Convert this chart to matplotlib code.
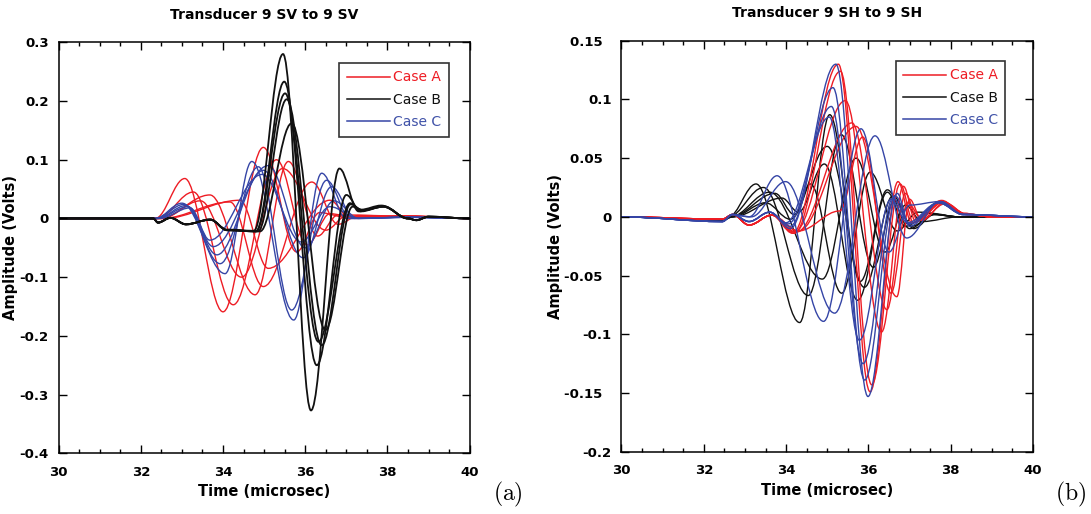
import matplotlib
matplotlib.use("Agg")
import matplotlib.pyplot as plt
from matplotlib.path import Path
from matplotlib.patches import PathPatch
from matplotlib.lines import Line2D

plt.rcParams['font.family'] = ['DejaVu Sans']
plt.rcParams['axes.unicode_minus'] = False
plt.rcParams['mathtext.fontset'] = 'cm'

RED = '#ee1c24'
BLACK = '#111111'
BLUE = '#3545a6'

X_TICKS = [30, 32, 34, 36, 38, 40]
SV_Y_TICKS = [-0.4, -0.3, -0.2, -0.1, 0, 0.1, 0.2, 0.3]
SH_Y_TICKS = [-0.2, -0.15, -0.1, -0.05, 0, 0.05, 0.1, 0.15]

# each trace = list of (time, amplitude) turning points
# ---- panel (a): SV to SV ----
SV_CASE_A = [
    [(30, 0), (32.35, 0), (33.07, 0.068), (34.0, -0.159), (34.98, 0.121), (35.79, -0.057), (36.35, 0.01), (37.0, 0.002), (38.5, 0.004), (40, 0)],
    [(30, 0), (32.4, 0), (33.28, 0.045), (34.25, -0.147), (35.3, 0.10), (36.05, -0.045), (36.6, 0.008), (37.2, 0.002), (38.5, 0.004), (40, 0)],
    [(30, 0), (32.45, 0), (33.68, 0.04), (34.78, -0.13), (35.59, 0.097), (36.3, -0.03), (36.8, 0.006), (38.5, 0.004), (40, 0)],
    [(30, 0), (32.5, 0), (34.17, 0.028), (34.98, -0.116), (36.16, 0.062), (36.8, -0.01), (37.3, 0.005), (38.5, 0.003), (40, 0)],
    [(30, 0), (32.55, 0), (34.41, 0.031), (35.1, -0.085), (36.6, 0.031), (37.1, 0.0), (38.5, 0.004), (40, 0)],
    [(30, 0), (32.5, 0), (33.45, 0.03), (34.45, -0.1), (35.45, 0.085), (36.5, -0.02), (37.0, 0.004), (38.5, 0.003), (40, 0)],
]
SV_CASE_B = [
    [(30, 0), (32.3, 0), (32.42, -0.007), (32.72, 0.001), (33.1, -0.01), (33.69, -0.002), (34.1, -0.019), (34.75, -0.021),
     (35.46, 0.28), (36.14, -0.327), (36.83, 0.085), (37.3, 0.012), (37.9, 0.021), (38.5, 0.0), (38.7, -0.003), (39.0, 0.003), (40, 0)],
    [(30, 0), (32.3, 0), (32.42, -0.007), (32.72, 0.001), (33.1, -0.01), (33.69, -0.002), (34.1, -0.02), (34.8, -0.022),
     (35.49, 0.233), (36.28, -0.25), (37.0, 0.04), (37.35, 0.012), (37.9, 0.02), (38.5, 0.0), (38.7, -0.003), (39.0, 0.003), (40, 0)],
    [(30, 0), (32.3, 0), (32.42, -0.007), (32.72, 0.001), (33.1, -0.01), (33.69, -0.002), (34.1, -0.02), (34.8, -0.022),
     (35.51, 0.213), (36.32, -0.21), (37.09, 0.026), (37.35, 0.015), (37.85, 0.022), (38.5, 0.0), (38.7, -0.003), (39.0, 0.003), (40, 0)],
    [(30, 0), (32.3, 0), (32.42, -0.007), (32.72, 0.001), (33.1, -0.01), (33.69, -0.002), (34.1, -0.02), (34.85, -0.022),
     (35.55, 0.203), (36.4, -0.216), (37.1, 0.024), (37.4, 0.014), (37.9, 0.02), (38.5, 0.0), (38.7, -0.003), (39.0, 0.003), (40, 0)],
    [(30, 0), (32.3, 0), (32.42, -0.007), (32.72, 0.001), (33.1, -0.01), (33.69, -0.002), (34.1, -0.02), (34.9, -0.022),
     (35.67, 0.162), (36.49, -0.19), (37.15, 0.02), (37.4, 0.014), (37.9, 0.02), (38.5, 0.0), (38.7, -0.003), (39.0, 0.003), (40, 0)],
]
SV_CASE_C = [
    [(30, 0), (32.35, 0), (33.0, 0.026), (34.05, -0.094), (34.7, 0.097), (35.72, -0.173), (36.4, 0.077), (37.0, 0.0), (38.5, 0.002), (40, 0)],
    [(30, 0), (32.35, 0), (33.05, 0.024), (33.93, -0.077), (34.86, 0.088), (35.67, -0.156), (36.52, 0.065), (37.1, 0.0), (38.5, 0.002), (40, 0)],
    [(30, 0), (32.4, 0), (33.1, 0.022), (33.85, -0.062), (34.98, 0.082), (35.95, -0.067), (36.64, 0.054), (37.2, 0.0), (38.5, 0.002), (40, 0)],
    [(30, 0), (32.4, 0), (33.15, 0.02), (33.76, -0.048), (35.1, 0.09), (36.0, -0.05), (36.7, 0.03), (37.3, 0.0), (38.5, 0.002), (40, 0)],
    [(30, 0), (32.45, 0), (33.2, 0.018), (33.68, -0.037), (34.95, 0.075), (35.9, -0.04), (36.6, 0.02), (37.3, 0.0), (38.5, 0.002), (40, 0)],
]

# ---- panel (b): SH to SH ----
SH_CASE_A = [
    [(30, 0), (32.45, -0.002), (32.7, 0.002), (33.1, -0.007), (33.65, 0.0015), (34.16, -0.014), (35.27, 0.13), (36.04, -0.149),
     (36.72, 0.03), (37.05, -0.005), (37.78, 0.014), (38.3, 0.003), (39.0, 0), (40, 0)],
    [(30, 0), (32.45, -0.002), (32.7, 0.002), (33.1, -0.007), (33.65, 0.0015), (34.2, -0.014), (35.32, 0.124), (36.08, -0.143),
     (36.77, 0.028), (37.1, -0.005), (37.8, 0.013), (38.3, 0.003), (39.0, 0), (40, 0)],
    [(30, 0), (32.45, -0.002), (32.7, 0.002), (33.1, -0.007), (33.65, 0.0015), (34.2, -0.013), (35.44, 0.099), (36.32, -0.098),
     (36.85, 0.026), (37.15, -0.004), (37.8, 0.013), (38.4, 0.002), (39.0, 0), (40, 0)],
    [(30, 0), (32.45, -0.002), (32.7, 0.002), (33.1, -0.007), (33.65, 0.0015), (34.25, -0.013), (35.6, 0.08), (36.45, -0.079),
     (36.9, 0.02), (37.2, -0.003), (37.8, 0.012), (38.4, 0.002), (39.0, 0), (40, 0)],
    [(30, 0), (32.45, -0.002), (32.7, 0.002), (33.1, -0.007), (33.65, 0.0015), (34.3, -0.012), (35.7, 0.077), (36.69, -0.068),
     (37.0, 0.015), (37.3, -0.003), (37.85, 0.012), (38.4, 0.002), (39.0, 0), (40, 0)],
    [(30, 0), (32.45, -0.002), (32.7, 0.002), (33.1, -0.007), (33.65, 0.0015), (34.3, -0.012), (35.3, 0.005), (35.86, 0.068),
     (36.55, -0.065), (36.95, 0.012), (37.3, -0.002), (37.85, 0.011), (38.4, 0.002), (39.0, 0), (40, 0)],
]
SH_CASE_B = [
    [(30, 0), (32.45, -0.003), (32.6, 0.0), (33.27, 0.028), (34.33, -0.09), (35.06, 0.087), (35.8, -0.055), (36.46, 0.023),
     (37.0, -0.01), (37.6, 0.002), (38.2, 0), (40, 0)],
    [(30, 0), (32.45, -0.003), (32.6, 0.0), (33.45, 0.025), (34.54, -0.067), (35.34, 0.07), (36.12, -0.043), (36.63, 0.014),
     (37.1, -0.01), (37.6, 0.002), (38.2, 0), (40, 0)],
    [(30, 0), (32.45, -0.003), (32.65, 0.0), (33.6, 0.021), (34.88, -0.053), (35.7, 0.05), (36.4, -0.03), (36.9, 0.01),
     (37.3, -0.004), (38.2, 0), (40, 0)],
    [(30, 0), (32.45, -0.003), (32.65, 0.0), (33.73, 0.02), (34.2, 0.002), (34.59, 0.028), (35.35, -0.065), (36.04, 0.038),
     (36.7, -0.012), (37.2, 0.004), (38.2, 0), (40, 0)],
    [(30, 0), (32.45, -0.003), (32.7, 0.0), (33.9, 0.016), (34.3, 0.004), (34.93, 0.045), (35.74, -0.071), (36.46, 0.021),
     (36.9, -0.008), (37.5, 0.003), (38.2, 0), (40, 0)],
    [(30, 0), (32.45, -0.003), (32.7, 0.0), (33.5, 0.012), (34.1, -0.002), (35.0, 0.06), (35.9, -0.06), (36.6, 0.018),
     (37.05, -0.008), (37.6, 0.002), (38.2, 0), (40, 0)],
]
SH_CASE_C = [
    [(30, 0), (32.45, -0.004), (32.7, 0.002), (33.1, 0.0), (33.78, 0.035), (34.91, -0.089), (35.82, 0.075), (36.5, -0.03),
     (37.0, 0.01), (37.74, 0.013), (38.3, 0.002), (40, 0)],
    [(30, 0), (32.45, -0.004), (32.7, 0.002), (33.15, 0.0), (33.99, 0.03), (35.18, -0.082), (36.16, 0.069), (36.93, -0.018),
     (37.74, 0.013), (38.3, 0.002), (40, 0)],
    [(30, 0), (32.45, -0.004), (32.7, 0.002), (33.1, -0.004), (33.6, 0.004), (34.1, -0.01), (35.21, 0.13), (35.99, -0.153),
     (36.7, 0.02), (37.0, -0.008), (37.74, 0.013), (38.3, 0.002), (40, 0)],
    [(30, 0), (32.45, -0.004), (32.7, 0.002), (33.1, -0.004), (33.6, 0.004), (34.1, -0.008), (35.14, 0.11), (35.91, -0.139),
     (36.65, 0.018), (37.0, -0.006), (37.7, 0.012), (38.3, 0.002), (40, 0)],
    [(30, 0), (32.45, -0.004), (32.7, 0.002), (33.1, -0.004), (33.6, 0.004), (34.05, -0.006), (35.1, 0.094), (35.87, -0.125),
     (36.6, 0.016), (37.0, -0.006), (37.7, 0.012), (38.3, 0.002), (40, 0)],
    [(30, 0), (32.45, -0.004), (32.7, 0.002), (33.1, -0.004), (33.6, 0.004), (34.0, -0.005), (35.05, 0.085), (35.78, -0.105),
     (36.55, 0.015), (36.95, -0.005), (37.7, 0.012), (38.3, 0.002), (40, 0)],
]


def wave_path(points):
    # smooth path through the turning points (flat tangent at each one)
    verts = [points[0]]
    codes = [Path.MOVETO]
    for (t0, a0), (t1, a1) in zip(points[:-1], points[1:]):
        dt = (t1 - t0) * 0.36
        verts += [(t0 + dt, a0), (t1 - dt, a1), (t1, a1)]
        codes += [Path.CURVE4] * 3
    return Path(verts, codes)


def ytick_text(v):
    s = f"{v:g}"
    # the original software leaves a gap after two-decimal labels
    if len(s.split('.')[-1]) == 2 and '.' in s:
        s += '\u2007'
    return s


def draw_panel(ax, cases, title, yticks, legend_anchor, black_lw):
    for traces, color in cases:
        for tr in traces:
            lw = black_lw if color == BLACK else 1.0
            ax.add_patch(PathPatch(wave_path(tr), fill=False, edgecolor=color, lw=lw))

    ax.set_xlim(X_TICKS[0], X_TICKS[-1])
    ax.set_ylim(yticks[0], yticks[-1])
    ax.set_xticks(X_TICKS)
    ax.set_xticks([x / 2 for x in range(60, 81)], minor=True)
    ax.set_yticks(yticks)
    ax.set_xticklabels([f"{x:g}" for x in X_TICKS])
    ax.set_yticklabels([ytick_text(y) for y in yticks])
    ax.tick_params(which='both', direction='in', top=True, right=True,
                   labelsize=9.5, width=1)
    ax.tick_params(axis='x', pad=9)
    ax.tick_params(axis='y', pad=7)
    ax.tick_params(which='major', length=6)
    ax.tick_params(which='minor', length=3)
    for lab in ax.get_xticklabels() + ax.get_yticklabels():
        lab.set_fontweight('bold')
    for sp in ax.spines.values():
        sp.set_linewidth(1.1)

    ax.set_title(title, fontsize=10, fontweight='bold', pad=17)
    ax.set_xlabel('Time (microsec)', fontsize=10.5, fontweight='bold', labelpad=4)
    ax.set_ylabel('Amplitude (Volts)', fontsize=10.5, fontweight='bold', labelpad=1)

    handles = [Line2D([], [], color=RED, lw=1.1),
               Line2D([], [], color=BLACK, lw=1.1),
               Line2D([], [], color=BLUE, lw=1.1)]
    leg = ax.legend(handles, ['Case A', 'Case B', 'Case C'], loc='upper right',
                    bbox_to_anchor=legend_anchor, fontsize=10, handlelength=3.1,
                    handletextpad=0.25, labelspacing=0.6, borderpad=0.55,
                    borderaxespad=0, fancybox=False, framealpha=1, edgecolor='#333333',
                    labelcolor=[RED, BLACK, '#4052a8'])
    leg.get_frame().set_linewidth(1.2)


fig = plt.figure(figsize=(10.91, 5.14), dpi=100)
ax1 = fig.add_axes([0.0537, 0.1181, 0.3768, 0.7996])
ax2 = fig.add_axes([0.5696, 0.1212, 0.3773, 0.7996])

draw_panel(ax1, [(SV_CASE_A, RED), (SV_CASE_C, BLUE), (SV_CASE_B, BLACK)],
           'Transducer 9 SV to 9 SV', SV_Y_TICKS, (0.95, 0.95), 1.3)
draw_panel(ax2, [(SH_CASE_B, BLACK), (SH_CASE_A, RED), (SH_CASE_C, BLUE)],
           'Transducer 9 SH to 9 SH', SH_Y_TICKS, (0.933, 0.951), 1.0)

fig.text(0.466, 0.01, r'$\mathrm{(a)}$', fontsize=17, ha='center', va='bottom')
fig.text(0.981, 0.01, r'$\mathrm{(b)}$', fontsize=17, ha='center', va='bottom')

fig.savefig('out.png', dpi=100)
